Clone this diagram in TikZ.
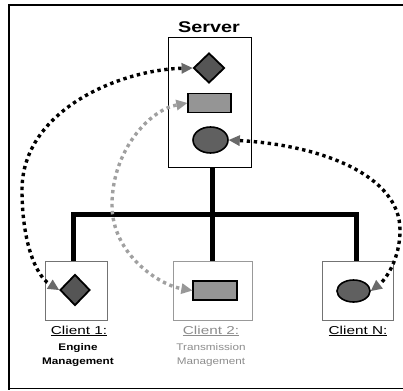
\documentclass[tikz,border=0pt]{standalone}
\usepackage{fontspec}
\setmainfont{Liberation Sans}
\usetikzlibrary{arrows.meta,shapes.geometric}

\definecolor{darkfill}{HTML}{555555}
\definecolor{midfill}{HTML}{959595}
\definecolor{ovalfill}{HTML}{606060}
\definecolor{linkgray}{HTML}{A0A0A0}
\definecolor{tipdark}{HTML}{6A6A6A}
\definecolor{tiplight}{HTML}{989898}

\newcommand{\wide}[2][1.28]{\scalebox{#1}[1]{#2}}

\begin{document}
\begin{tikzpicture}[x=1pt,y=-1pt,
  framerule/.style={line width=#1,line cap=rect},
  serverbox/.style={draw,line width=1pt,minimum width=83pt,minimum height=129pt,inner sep=0pt},
  clientbox/.style={draw=black!55,line width=0.8pt,minimum height=59pt,inner sep=0pt},
  diashape/.style={diamond,draw,line width=1.8pt,fill=darkfill,minimum width=31pt,minimum height=30pt,inner sep=0pt},
  rectshape/.style={rectangle,draw,line width=1.4pt,fill=midfill,minimum width=43pt,minimum height=19pt,inner sep=0pt},
  ovalshape/.style={ellipse,draw,line width=1.6pt,fill=ovalfill,inner sep=0pt},
  bus/.style={line width=5pt,line join=miter},
  link/.style={line width=3.4pt,dash pattern=on 3.4pt off 3.6pt},
  darktips/.style={{Triangle[length=11pt,width=11pt,line width=0pt,color=tipdark]}-{Triangle[length=11pt,width=11pt,line width=0pt,color=tipdark]}},
  lighttips/.style={{Triangle[length=11pt,width=11pt,line width=0pt,color=tiplight]}-{Triangle[length=11pt,width=11pt,line width=0pt,color=tiplight]}},
  namelabel/.style={inner sep=0pt,font=\fontsize{11.5}{13}\selectfont},
  desclabel/.style={inner sep=0pt,font=\fontsize{9.6}{14}\selectfont\bfseries}
]
\useasboundingbox (0,0) rectangle (403,390);

% outer frame (open on the right)
\draw[framerule=2.6pt] (403,5) -- (9,5) -- (9,388.5);
\draw[line width=1.4pt] (9,388.5) -- (403,388.5);

% server
\node[serverbox] (srv) at (209.5,102.5) {};
\node[inner sep=0pt,anchor=base,font=\fontsize{15.5}{18}\selectfont\bfseries] (srvname) at (209,33) {\wide{Server}};
\node[diashape] (sdia) at (209,68) {};
\node[rectshape] (srect) at (209.5,103) {};
\node[ovalshape,minimum width=35pt,minimum height=26pt] (soval) at (210.5,140) {};

% clients
\node[clientbox,minimum width=62pt] (c1) at (76,290.5) {};
\node[clientbox,minimum width=79pt,draw=black!40] (c2) at (212.5,290.5) {};
\node[clientbox,minimum width=71pt] (cN) at (357.5,290.5) {};
\node[diashape,minimum width=30pt,minimum height=31pt] (c1dia) at (75,290) {};
\node[rectshape,minimum width=44pt] (c2rect) at (215,290.5) {};
\node[ovalshape,minimum width=33pt,minimum height=22pt] (cNoval) at (353.5,291) {};

% client captions
\node[namelabel] (c1name) at (79,331) {\wide[1.33]{\underline{Client 1:}}};
\node[desclabel] (c1desc) at (78,355) {\wide[1.22]{\begin{tabular}{@{}c@{}}Engine\\Management\end{tabular}}};
\node[namelabel,text=black!45] (c2name) at (211,331) {\wide[1.33]{\underline{Client 2:}}};
\node[desclabel,text=black!45,font=\fontsize{9.6}{14}\selectfont] (c2desc) at (211,355) {\wide[1.22]{\begin{tabular}{@{}c@{}}Transmission\\Management\end{tabular}}};
\node[namelabel] (cNname) at (358,331) {\wide[1.33]{\underline{Client N:}}};

% bus wiring
\coordinate (hub) at (212.5,214.5);
\draw[bus] (hub |- srv.south) -- (hub);
\draw[bus] ([xshift=-3pt]c1.north) |- (hub) -| ([xshift=-1pt]cN.north);
\draw[bus] (hub) -- (hub |- c2.north);

% message links
\draw[link,black,darktips] (sdia.west) .. controls (120,70) and (22,110) .. (22,190)
  .. controls (22,240) and (35,275) .. (c1dia.west);
\draw[link,linkgray,lighttips] (srect.west) .. controls (150,110) and (112,150) .. (112,205)
  .. controls (112,255) and (160,285) .. (c2rect.west);
\draw[link,black,darktips] (soval.east) .. controls (320,145) and (400,175) .. (400,230)
  .. controls (400,260) and (385,280) .. (cNoval.east);
\end{tikzpicture}
\end{document}
